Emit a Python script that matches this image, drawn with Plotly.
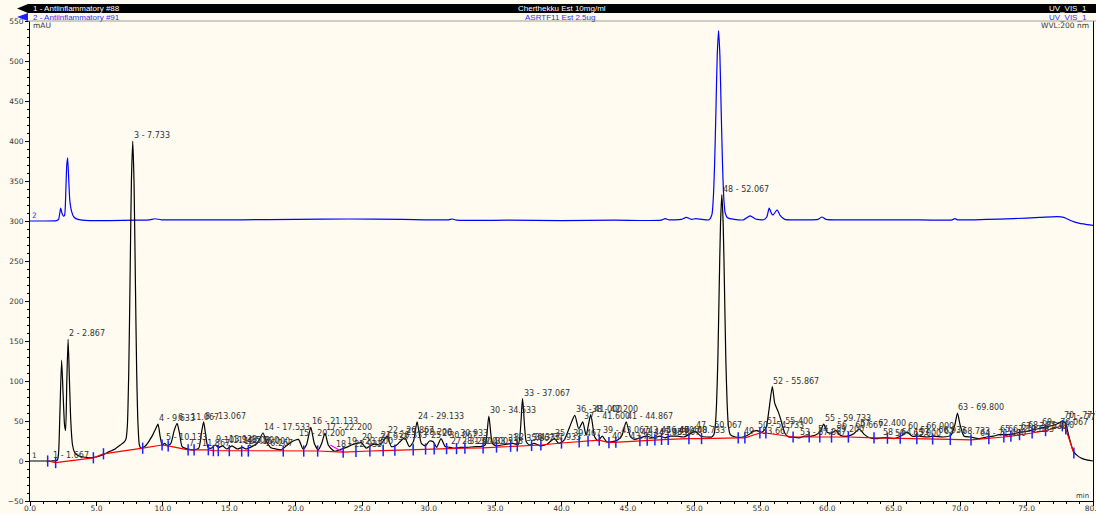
import plotly.graph_objects as go

# ---------------- chromatogram 1 (black): retention time [min] / signal [mAU]
black_time = [0.0, 1.0, 1.6, 2.05, 2.15, 2.25, 2.38, 2.5, 2.6, 2.68, 2.77, 2.867, 2.97, 3.07, 3.2, 3.35, 3.6, 4.0, 4.5,
              5.0, 5.5, 6.0, 6.4, 6.8, 7.1, 7.23, 7.33, 7.43, 7.53, 7.63, 7.733, 7.83, 7.93, 8.03, 8.13, 8.23, 8.35,
              8.7, 9.0, 9.25, 9.45, 9.633, 9.8, 9.95, 10.133, 10.35, 10.6, 10.85, 11.067, 11.25, 11.45, 11.867, 12.3,
              12.7, 12.9, 13.067, 13.2, 13.4, 13.65, 13.933, 14.2, 14.5, 14.8, 15.2, 15.6, 16.0, 16.267, 16.7, 17.1,
              17.533, 17.8, 18.1, 18.5, 18.9, 19.3, 19.7, 20.2, 20.55, 20.8, 21.133, 21.4, 21.7, 21.95, 22.2, 22.45,
              22.75, 22.933, 23.3, 23.8, 24.2, 24.6, 24.933, 25.3, 25.6, 25.933, 26.333, 26.6, 26.867, 27.2, 27.6,
              27.9, 28.2, 28.55, 28.85, 29.133, 29.45, 29.75, 30.067, 30.35, 30.6, 30.933, 31.25, 31.6, 31.9, 32.4,
              32.9, 33.533, 33.9, 34.25, 34.533, 34.8, 35.1, 35.5, 35.867, 36.333, 36.75, 37.067, 37.35, 37.6,
              37.933, 38.4, 38.9, 39.467, 39.8, 40.2, 40.6, 41.0, 41.3, 41.6, 41.85, 42.2, 42.5, 42.75, 43.067, 43.4,
              43.733, 44.2, 44.55, 44.867, 45.2, 45.5, 45.933, 46.4, 46.867, 47.4, 47.8, 48.2, 48.733, 49.2, 49.6,
              50.067, 50.5, 50.9, 51.3, 51.467, 51.567, 51.667, 51.767, 51.867, 51.967, 52.067, 52.167, 52.267,
              52.367, 52.467, 52.567, 52.7, 53.1, 53.667, 54.1, 54.4, 54.733, 55.1, 55.4, 55.6, 55.867, 56.05, 56.3,
              56.5, 56.8, 57.1, 57.4, 57.867, 58.3, 58.8, 59.2, 59.5, 59.733, 60.0, 60.3, 60.667, 61.0, 61.5, 62.0,
              62.4, 62.8, 63.2, 63.8, 64.133, 64.6, 65.0, 65.5, 66.0, 66.4, 66.933, 67.5, 68.0, 68.733, 69.3, 69.6,
              69.8, 70.0, 70.3, 70.8, 71.4, 72.0, 72.5, 72.933, 73.533, 74.0, 74.533, 75.0, 75.5, 76.067, 76.6,
              77.1, 77.5, 77.733, 77.933, 78.2, 78.5, 78.8, 79.2, 79.6, 80.0]
black_mau = [0, 0, 0, 1, 10, 60, 126, 80, 45, 38, 100, 152, 100, 50, 20, 11, 7, 5, 4,
             5, 8, 12, 15, 20, 24, 28, 45, 110, 226, 348, 400, 348, 226, 110, 45, 20, 16,
             19, 26, 33, 40, 46, 30, 20, 22, 19, 22, 38, 47, 35, 18, 15, 14,
             16, 35, 49, 35, 17, 16, 20, 17, 19, 15, 19, 15, 17, 15, 18, 22,
             35, 24, 17, 15, 14, 19, 24, 27, 15, 20, 42, 22, 14, 22, 35, 20,
             14, 12, 14, 17, 20, 22, 23, 16, 19, 21, 20, 25, 31, 18, 20,
             25, 29, 18, 24, 49, 22, 19, 25, 24, 17, 28, 18, 17, 16, 17,
             17, 18, 18, 20, 56, 22, 19, 20, 21, 22, 21, 78, 24, 20,
             22, 19, 21, 28, 22, 26, 42, 57, 40, 49, 32, 58, 30, 25, 31, 24,
             24, 26, 32, 49, 30, 27, 29, 31, 29, 31, 29, 31, 31, 30, 33,
             37, 31, 30, 30, 33, 43, 71, 127, 215, 297, 333, 297, 215,
             127, 71, 43, 33, 30, 30, 33, 37, 38, 36, 42, 62, 93, 72, 62,
             52, 35, 30, 30, 29, 31, 31, 33, 38, 46, 36, 35, 38, 32, 31, 34,
             40, 33, 29, 28, 29, 29, 28, 31, 36, 31, 31, 30, 31, 30, 32, 45,
             60, 45, 31, 30, 28, 30, 31, 33, 33, 34, 36, 37, 39, 41, 43,
             45, 48, 50, 47, 30, 13, 7, 3, 1, 0]

# ---------------- chromatogram 2 (blue), drawn with its +300 mAU offset
blue_time = [0.0, 1.0, 2.0, 2.15, 2.31, 2.42, 2.52, 2.6, 2.7, 2.767, 2.833, 2.92, 3.0, 3.13, 3.3, 3.6, 4.5, 6.0,
             8.0, 9.0, 9.4, 9.9, 12.0, 16.0, 20.0, 24.0, 28.0, 31.5, 31.8, 32.1, 36.0, 40.0, 44.0, 47.5, 47.8,
             48.1, 49.0, 49.4, 49.8, 50.1, 50.6, 51.1, 51.32, 51.42, 51.52, 51.62, 51.72, 51.82, 51.92, 52.02,
             52.12, 52.22, 52.32, 52.5, 53.0, 53.7, 54.2, 54.6, 55.2, 55.45, 55.63, 55.85, 55.95, 56.23, 56.45,
             56.8, 58.0, 59.3, 59.6, 59.9, 62.0, 66.0, 69.4, 69.6, 69.8, 72.0, 74.0, 76.0, 77.3, 77.8, 78.4,
             79.0, 79.6, 80.0]
blue_mau = [300, 300, 300.5, 302, 316, 309, 306, 307, 340, 370, 379, 350, 325, 312, 305, 302, 300.5, 300.5,
            301, 301.5, 302.8, 301.5, 301.5, 301.5, 302, 302.5, 302, 301.5, 302.5, 301, 301, 300.5, 301, 301, 303,
            301.5, 302, 304.5, 302, 303, 302, 301.5, 308, 327, 370, 436, 507, 538, 507, 436,
            370, 327, 310, 304, 302, 301.5, 306.5, 302.5, 301.5, 305, 316, 308, 308, 314, 307,
            302, 301.5, 302, 305, 302, 301.5, 301.5, 301.5, 303, 301.5, 302, 303, 304.5, 305.5, 304.5, 300,
            297, 295.5, 294.5]

# ---------------- integration boundaries (peak start / end) of chromatogram 1
boundary_time = [1.33, 1.93, 4.77, 5.53, 8.48, 9.94, 10.4, 11.9, 12.35, 13.42, 13.8, 14.17, 15.0, 15.93, 16.43,
                 19.06, 20.6, 21.65, 23.57, 24.53, 25.58, 26.58, 27.46, 28.84, 29.77, 30.42, 31.35, 32.1, 32.73,
                 34.1, 35.11, 36.17, 36.67, 37.75, 38.45, 40.0, 41.33, 42.0, 42.84, 43.57, 44.09, 45.9, 46.45,
                 47.03, 47.53, 48.03, 49.59, 50.54, 53.3, 53.8, 54.93, 55.38, 57.43, 58.64, 59.44, 60.32, 61.59,
                 63.52, 64.53, 65.49, 66.74, 67.93, 69.26, 70.82, 72.16, 73.29, 73.82, 74.47, 75.42, 76.43, 77.69,
                 77.95, 78.56]
boundary_mau = [0, -2, 4, 9, 16, 20, 19, 14, 14, 14, 13, 13, 13, 12.5, 12.5,
                12.5, 12.5, 12.5, 11, 12, 12.5, 13, 13.5, 14, 15, 15, 15.5, 15.5, 16,
                16.5, 17.5, 18.5, 19, 19.5, 20, 22.5, 24, 25, 26, 23, 23.5, 25.5, 26,
                26.5, 27, 27, 28, 28, 29, 29, 35, 35, 30, 30, 30, 30, 30,
                29, 28.5, 28.5, 28, 27.5, 27, 26.5, 28, 30, 31, 33, 35, 38, 44,
                40, 10]

# ---------------- peak table of chromatogram 1: number, retention time, apex height
peak_no = list(range(1, 72))
peak_rt = [1.667, 2.867, 7.733, 9.633, 10.133, 11.067, 11.867, 13.067, 13.933, 14.500, 15.200, 16.000, 16.267,
           17.533, 20.200, 21.133, 22.200, 22.933, 23.800, 24.933, 26.333, 26.867, 28.200, 29.133, 30.067,
           30.933, 31.600, 32.400, 33.533, 34.533, 35.867, 36.333, 37.067, 37.933, 39.467, 41.000, 41.600,
           42.200, 43.067, 43.733, 44.867, 45.933, 46.400, 46.867, 47.400, 48.733, 50.067, 52.067, 53.667,
           54.733, 55.400, 55.867, 57.867, 59.200, 59.733, 60.667, 62.400, 64.133, 65.000, 66.000, 66.933,
           68.733, 69.800, 71.400, 72.933, 73.533, 74.533, 75.000, 76.067, 77.733, 77.933]
peak_mau = [0, 152, 400, 46, 22, 47, 15, 49, 20, 19, 19, 17, 15,
            35, 27, 42, 35, 14, 17, 23, 25, 31, 29, 49, 25,
            28, 17, 17, 18, 56, 21, 22, 78, 22, 28, 57, 49,
            58, 31, 24, 49, 29, 31, 29, 31, 31, 37, 333, 30,
            38, 42, 93, 29, 33, 46, 38, 40, 29, 28, 36, 31,
            30, 60, 28, 33, 33, 36, 37, 41, 50, 47]

# perpendicular drops / skim segment drawn by the integrator
drop_time = [26.58, 28.84, 41.33]
drop_low = [13, 14, 24]
drop_high = [25, 24, 41]
skim_time = [22.6, 23.57]
skim_mau = [20, 11]

BG = "#FFFBF0"
FONT = "DejaVu Sans"
X0_PX, X1_PX, Y_TOP_PX, Y_BOT_PX = 30, 1093, 21, 501


def px_x(px):
    return (px - X0_PX) / (X1_PX - X0_PX)


def px_y(py):
    return (Y_BOT_PX - py) / (Y_BOT_PX - Y_TOP_PX)


fig = go.Figure()

fig.add_trace(go.Scatter(x=blue_time, y=blue_mau, mode="lines",
                         line=dict(color="#0000FF", width=1.2, shape="spline", smoothing=0.6),
                         hoverinfo="skip", showlegend=False))
fig.add_trace(go.Scatter(x=black_time, y=black_mau, mode="lines",
                         line=dict(color="#000000", width=1.2, shape="spline", smoothing=0.6),
                         hoverinfo="skip", showlegend=False))
fig.add_trace(go.Scatter(x=boundary_time, y=boundary_mau, mode="lines",
                         line=dict(color="#FF0000", width=1.2),
                         hoverinfo="skip", showlegend=False))
for t, lo, hi in zip(drop_time, drop_low, drop_high):
    fig.add_trace(go.Scatter(x=[t, t], y=[lo, hi], mode="lines",
                             line=dict(color="#00C8FF", width=1), hoverinfo="skip", showlegend=False))
fig.add_trace(go.Scatter(x=skim_time, y=skim_mau, mode="lines",
                         line=dict(color="#FF00FF", width=1.2), hoverinfo="skip", showlegend=False))
fig.add_trace(go.Scatter(x=boundary_time, y=boundary_mau, mode="markers",
                         marker=dict(symbol="line-ns", size=8, line=dict(color="#2020FF", width=1.5)),
                         hoverinfo="skip", showlegend=False))

annotations = []
for n, rt, h in zip(peak_no, peak_rt, peak_mau):
    annotations.append(dict(x=rt, y=h, xref="x", yref="y", text=f"{n} - {rt:.3f}", showarrow=False,
                            xanchor="left", yanchor="bottom", borderpad=0,
                            font=dict(family=FONT, size=8, color="#333333")))

# chromatogram numbers at the start of each trace
annotations.append(dict(x=0.1, y=0, xref="x", yref="y", text="1", showarrow=False, xanchor="left",
                        yanchor="bottom", borderpad=0, font=dict(family=FONT, size=7.5, color="#333333")))
annotations.append(dict(x=0.1, y=300, xref="x", yref="y", text="2", showarrow=False, xanchor="left",
                        yanchor="bottom", borderpad=0, font=dict(family=FONT, size=7.5, color="#3030F0")))

# axis captions
annotations.append(dict(x=px_x(31), y=px_y(26), xref="paper", yref="paper", text="mAU", showarrow=False,
                        xanchor="left", yanchor="middle", font=dict(family=FONT, size=7.5, color="#333333")))
annotations.append(dict(x=px_x(1091), y=px_y(26), xref="paper", yref="paper", text="WVL:200 nm",
                        showarrow=False, xanchor="right", yanchor="middle",
                        font=dict(family=FONT, size=7.5, color="#333333")))
annotations.append(dict(x=px_x(1091), y=px_y(496), xref="paper", yref="paper", text="min", showarrow=False,
                        xanchor="right", yanchor="middle", font=dict(family=FONT, size=7, color="#333333")))

# header rows
HFONT = "Liberation Sans"
row1 = px_y(8.5)
row2 = px_y(17)
annotations += [
    dict(x=px_x(31), y=row1, xref="paper", yref="paper", text="1 - Antiinflammatory #88", showarrow=False,
         xanchor="left", yanchor="middle", font=dict(family=HFONT, size=8, color="white")),
    dict(x=px_x(562), y=row1, xref="paper", yref="paper", text="Cherthekku Est 10mg/ml", showarrow=False,
         xanchor="center", yanchor="middle", font=dict(family=HFONT, size=8, color="white")),
    dict(x=px_x(1089), y=row1, xref="paper", yref="paper", text="UV_VIS_1", showarrow=False,
         xanchor="right", yanchor="middle", font=dict(family=HFONT, size=8, color="white")),
    dict(x=px_x(31), y=row2, xref="paper", yref="paper", text="2 - Antiinflammatory #91", showarrow=False,
         xanchor="left", yanchor="middle", font=dict(family=HFONT, size=8, color="#3030F0")),
    dict(x=px_x(560), y=row2, xref="paper", yref="paper", text="ASRTF11 Est 2.5ug", showarrow=False,
         xanchor="center", yanchor="middle", font=dict(family=HFONT, size=8, color="#3030F0")),
    dict(x=px_x(1089), y=row2, xref="paper", yref="paper", text="UV_VIS_1", showarrow=False,
         xanchor="right", yanchor="middle", font=dict(family=HFONT, size=8, color="#3030F0")),
]

shapes = [
    dict(type="rect", xref="paper", yref="paper", x0=px_x(28), x1=px_x(1097), y0=px_y(13), y1=px_y(4),
         fillcolor="black", line=dict(width=0), layer="above"),
    dict(type="path", xref="paper", yref="paper",
         path=f"M {px_x(28)},{px_y(4)} L {px_x(17)},{px_y(8.5)} L {px_x(28)},{px_y(13)} Z",
         fillcolor="black", line=dict(width=0)),
    dict(type="path", xref="paper", yref="paper",
         path=f"M {px_x(28)},{px_y(13)} L {px_x(17)},{px_y(17)} L {px_x(28)},{px_y(21)} Z",
         fillcolor="#2020FF", line=dict(width=0)),
    dict(type="line", xref="paper", yref="paper", x0=px_x(28), x1=px_x(1097), y0=1, y1=1,
         line=dict(color="#A0A0A0", width=1.2)),
]

fig.update_layout(
    width=1096, height=514,
    margin=dict(l=X0_PX, r=1096 - X1_PX, t=Y_TOP_PX, b=514 - Y_BOT_PX, pad=0),
    paper_bgcolor=BG, plot_bgcolor=BG,
    showlegend=False,
    annotations=annotations,
    shapes=shapes,
    xaxis=dict(range=[0, 80], tickmode="linear", tick0=0, dtick=5, tickformat=".1f",
               showgrid=False, zeroline=False, showline=True, linecolor="black", linewidth=1,
               ticks="outside", ticklen=4, tickcolor="black", tickwidth=1, ticklabelstandoff=-4,
               ticklabeloverflow="allow",
               minor=dict(dtick=1, ticklen=2, tickcolor="black", ticks="outside", showgrid=False),
               tickfont=dict(family=FONT, size=7.5, color="#333333"), automargin=False),
    yaxis=dict(range=[-50, 550], tickmode="linear", tick0=-50, dtick=50,
               showgrid=False, zeroline=False, showline=True, linecolor="black", linewidth=1,
               mirror=True,
               ticks="outside", ticklen=4, tickcolor="black", tickwidth=1,
               minor=dict(dtick=10, ticklen=2, tickcolor="black", ticks="outside", showgrid=False),
               tickfont=dict(family=FONT, size=7.5, color="#333333"), automargin=False),
)

fig.write_html("out.html")
